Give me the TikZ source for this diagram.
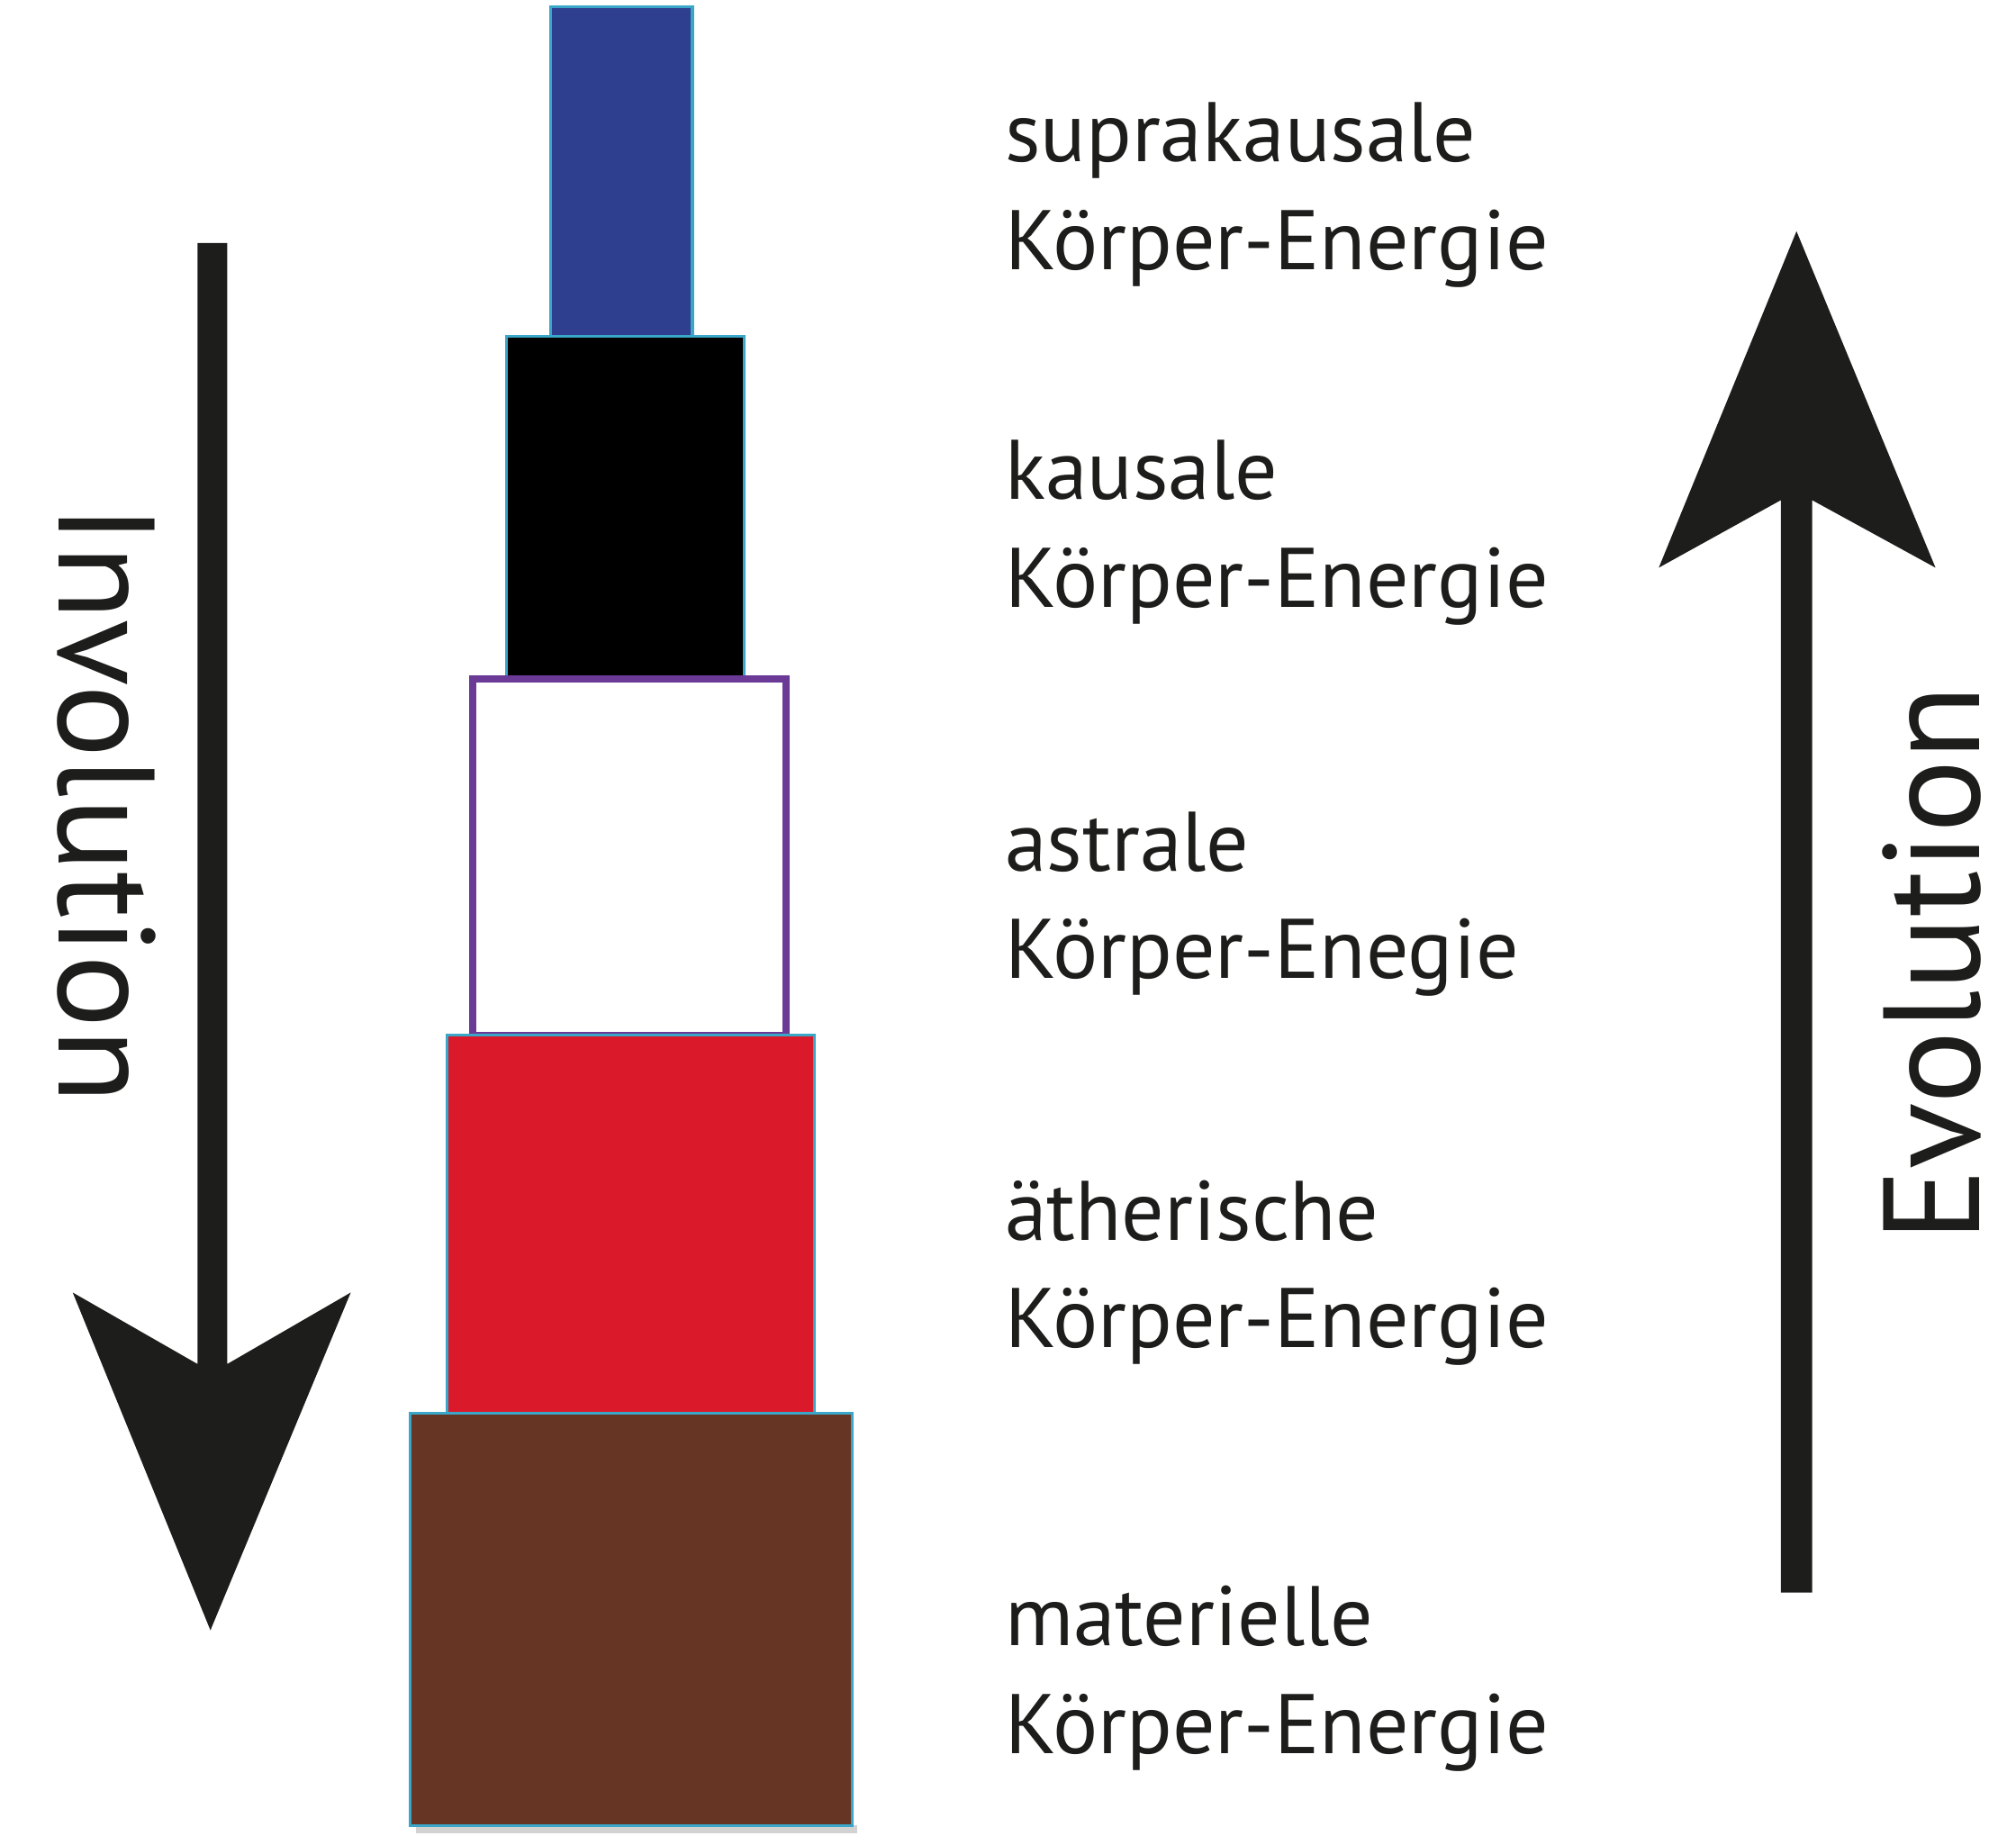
\documentclass[tikz,border=0pt]{standalone}
\usepackage{fontspec}
\setmainfont{PT Sans}
\usepackage{xcolor}
\definecolor{darkgray}{HTML}{1D1D1B}
\definecolor{supra}{HTML}{2E3F8F}
\definecolor{aether}{HTML}{DA1A2A}
\definecolor{matter}{HTML}{673524}
\definecolor{astral}{HTML}{6A3A96}
\definecolor{edge}{HTML}{3AA6C8}
\begin{document}
\begin{tikzpicture}[x=0.01cm, y=-0.01cm,
    layer/.style={draw=edge, line width=0.6pt, inner sep=0pt},
    label/.style={anchor=west, align=left, font=\fontsize{18.5}{23.6}\selectfont, text=darkgray, inner sep=0pt},
    side/.style={font=\fontsize{30}{36}\selectfont, text=darkgray, inner sep=0pt}]
    \useasboundingbox (0,0) rectangle (1552,1413);
    % Layers
    \fill[black!35, opacity=0.5] (320,1405) rectangle (660,1411);
    \node[layer, fill=supra, minimum width=1.09cm, minimum height=2.54cm] (supra) at (478.5,132) {};
    \node[layer, fill=black, minimum width=1.83cm, minimum height=2.64cm] (kausal) at (481.5,391) {};
    \node[layer, draw=astral, line width=1.6pt, fill=white, minimum width=2.41cm, minimum height=2.74cm] (astral) at (484.5,660) {};
    \node[layer, fill=aether, minimum width=2.83cm, minimum height=2.91cm] (aether) at (485.5,942.5) {};
    \node[layer, fill=matter, minimum width=3.40cm, minimum height=3.17cm] (matter) at (486,1246.5) {};
    % Labels
    \node[label] (lsupra) at (773,150) {suprakausale\\Körper-Energie};
    \node[label] (lkausal) at (773,410) {kausale\\Körper-Energie};
    \node[label] (lastral) at (773,696) {astrale\\Körper-Enegie};
    \node[label] (laether) at (773,980) {ätherische\\Körper-Energie};
    \node[label] (lmatter) at (773,1292) {materielle\\Körper-Energie};
    % Involution arrow
    \fill[darkgray] (152,187) -- (175,187) -- (175,1050) -- (270,995) -- (162,1255)
        -- (56,995) -- (152,1050) -- cycle;
    \node[side, rotate=-90] (inv) at (82,619) {Involution};
    % Evolution arrow
    \fill[darkgray] (1371,1226) -- (1395,1226) -- (1395,385) -- (1490,437) -- (1383,178)
        -- (1277,437) -- (1371,385) -- cycle;
    \node[side, rotate=90] (evo) at (1487,742) {Evolution};
\end{tikzpicture}
\end{document}
